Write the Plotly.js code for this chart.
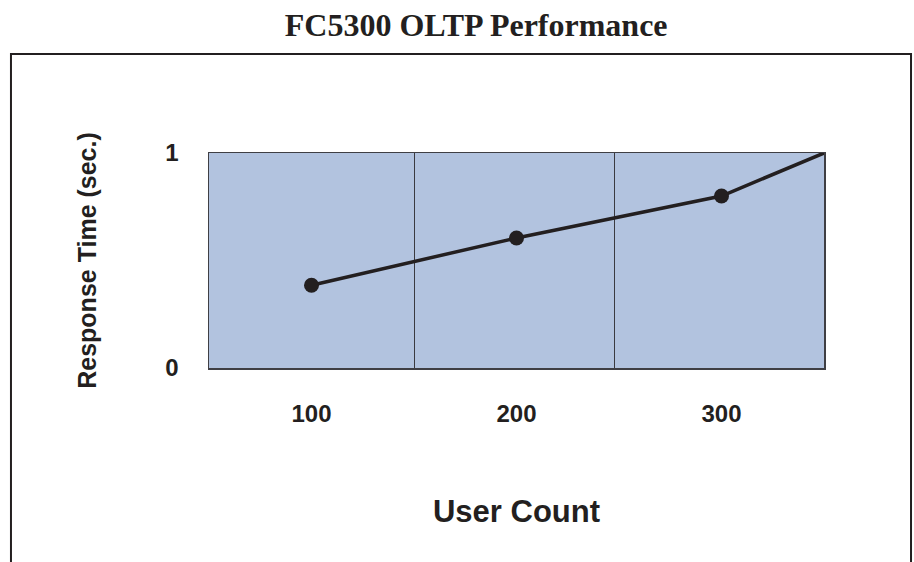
<!DOCTYPE html>
<html>
<head>
<meta charset="utf-8">
<script src="https://cdn.plot.ly/plotly-3.0.1.min.js"></script>
<style>html,body{margin:0;padding:0;background:#fff;}#chart{width:914px;height:562px;}</style>
</head>
<body>
<div id="chart"></div>
<script>
// Data
const userCount = [100, 200, 300, 350];
const responseTime = [0.385, 0.605, 0.80, 1.0];
const showMarker = [true, true, true, false];
const xTickVals = [100, 200, 300];
const xTickText = ['100', '200', '300'];
const yTickVals = [0, 1];
const yTickText = ['0', '1'];
const chartTitle = 'FC5300 OLTP Performance';
const xTitle = 'User Count';
const yTitle = 'Response Time (sec.)';

const sansBold = '"Liberation Sans", Arial, sans-serif';
const ink = '#231f20';

const trace = {
  x: userCount,
  y: responseTime,
  type: 'scatter',
  mode: 'lines+markers',
  line: {color: ink, width: 3.5},
  marker: {color: ink, opacity: 1, size: showMarker.map(s => s ? 15 : 0), line: {width: 0}},
  hoverinfo: 'skip',
  cliponaxis: false
};

const layout = {
  width: 914, height: 562,
  margin: {l: 209, r: 90, t: 153, b: 194},
  paper_bgcolor: '#ffffff',
  plot_bgcolor: '#b2c3df',
  showlegend: false,
  title: {
    text: '<b>' + chartTitle + '</b>',
    font: {family: '"Liberation Serif", "Times New Roman", serif', size: 32, color: ink},
    x: 0.521, xref: 'container', xanchor: 'center',
    y: 0.956, yref: 'container', yanchor: 'middle'
  },
  xaxis: {
    range: [50, 350],
    tickmode: 'array', tickvals: xTickVals, ticktext: xTickText,
    ticks: '', showgrid: false, zeroline: false,
    showline: true, mirror: true, linecolor: '#3f3f44', linewidth: 1.5,
    ticklabelstandoff: 24,
    tickfont: {family: sansBold, size: 24, color: ink, weight: 'bold'},
    minor: {tickmode: 'array', tickvals: [150, 248], showgrid: true, gridcolor: '#3a3a40', gridwidth: 1, ticks: ''},
    title: {text: xTitle, font: {family: sansBold, size: 31, color: ink, weight: 'bold'}, standoff: 74},
    fixedrange: true
  },
  yaxis: {
    range: [0, 1],
    tickmode: 'array', tickvals: yTickVals, ticktext: yTickText,
    ticks: '', showgrid: false, zeroline: false,
    showline: true, mirror: true, linecolor: '#3f3f44', linewidth: 1.5,
    ticklabelstandoff: 24,
    tickfont: {family: sansBold, size: 24, color: ink, weight: 'bold'},
    title: {text: yTitle, font: {family: sansBold, size: 25, color: ink, weight: 'bold'}, standoff: 61},
    fixedrange: true
  },
  shapes: [{
    type: 'path', xref: 'paper', yref: 'paper', layer: 'below',
    path: 'M -0.322 -1.0 L -0.322 1.4605 L 1.1415 1.4605 L 1.1415 -1.0',
    line: {color: ink, width: 2}
  }]
};

Plotly.newPlot('chart', [trace], layout, {displayModeBar: false, staticPlot: true});
</script>
</body>
</html>
